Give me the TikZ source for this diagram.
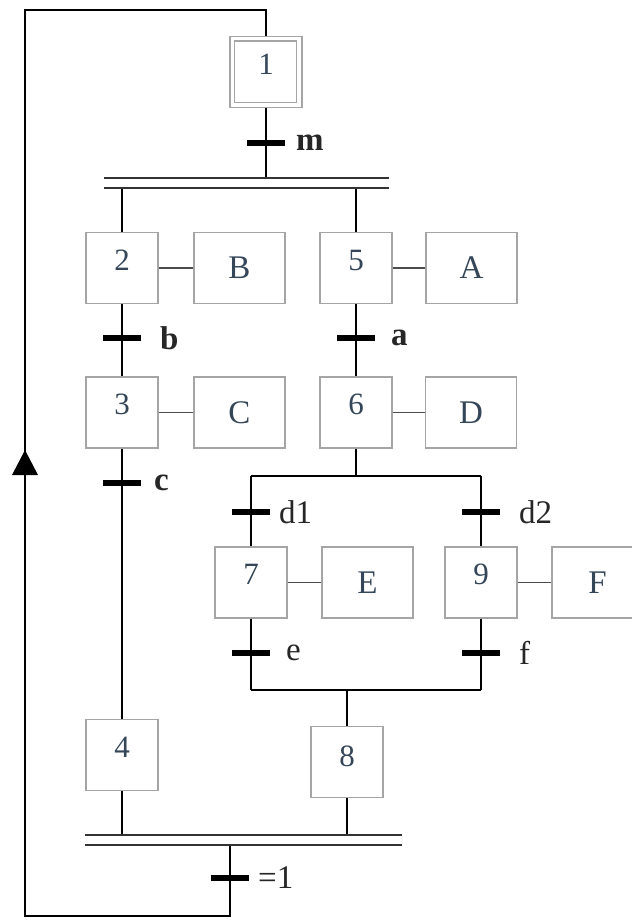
\documentclass[tikz,border=0pt]{standalone}
\usepackage{fontspec}
\setmainfont{Liberation Serif}
\definecolor{numcol}{RGB}{52,70,88}
\definecolor{boxcol}{RGB}{165,165,165}
\begin{document}
\begin{tikzpicture}[x=1pt,y=-1pt,
 stepbox/.style={draw=boxcol, line width=1.1pt, minimum width=72pt, minimum height=71pt, inner sep=0pt},
 actbox/.style={draw=boxcol, line width=1.1pt, minimum width=91pt, minimum height=71pt, inner sep=0pt, font=\fontsize{33}{33}\selectfont, text=numcol},
 num/.style={font=\fontsize{31}{31}\selectfont, text=numcol},
 tbar/.style={fill=black, minimum width=38pt, minimum height=6pt, inner sep=0pt},
 tlab/.style={anchor=west, inner sep=0pt, font=\fontsize{33}{33}\selectfont, text=black!85},
 tlabb/.style={tlab, font=\fontsize{33}{33}\selectfont\bfseries},
 flow/.style={line width=2pt, draw=black},
 dbl/.style={line width=1.8pt, draw=black!80},
 link/.style={line width=1.3pt, draw=black!70}
]
\useasboundingbox (0,0) rectangle (632,922);
\fill[white] (0,0) rectangle (632,922);
\clip (0,0) rectangle (632,922);

% steps
\node[stepbox, label={[num,yshift=8pt]center:1}] (s1) at (266,72) {};
\draw[draw=boxcol, line width=1.1pt] ([shift={(5pt,-5pt)}]s1.north west) rectangle ([shift={(-6pt,6pt)}]s1.south east);
\node[stepbox, label={[num,yshift=8pt]center:2}] (s2) at (122,268) {};
\node[actbox] (aB) at (239.5,268) {B};
\node[stepbox, label={[num,yshift=8pt]center:5}] (s5) at (356,268) {};
\node[actbox] (aA) at (471.5,268) {A};
\node[stepbox, label={[num,yshift=8pt]center:3}] (s3) at (122,412.5) {};
\node[actbox] (aC) at (239.5,412.5) {C};
\node[stepbox, label={[num,yshift=8pt]center:6}] (s6) at (356,412.5) {};
\node[actbox] (aD) at (471,412.5) {D};
\node[stepbox, label={[num,yshift=8pt]center:7}] (s7) at (251,582.5) {};
\node[actbox] (aE) at (367.5,582.5) {E};
\node[stepbox, label={[num,yshift=8pt]center:9}] (s9) at (481,582.5) {};
\node[actbox] (aF) at (597.5,582.5) {F};
\node[stepbox, label={[num,yshift=8pt]center:4}] (s4) at (122,755) {};
\node[stepbox, label={[num,yshift=6pt]center:8}] (s8) at (347,762) {};

% action links
\foreach \s/\a in {s2/aB, s5/aA, s3/aC, s6/aD, s7/aE, s9/aF}
  \draw[link] (\s.east) -- (\a.west);

% coordinates
\coordinate (top) at (266,10);
\coordinate (lt) at (25,10);
\coordinate (lb) at (25,916);
\coordinate (rb) at (230,916);
\coordinate (m1) at (266,178);
\coordinate (dA1) at (104,178);
\coordinate (dA2) at (389,178);
\coordinate (dB1) at (104,188);
\coordinate (dB2) at (389,188);
\coordinate (c2) at (122,188);
\coordinate (c5) at (356,188);
\coordinate (c4) at (122,835);
\coordinate (c8) at (347,835);
\coordinate (eA1) at (85,835);
\coordinate (eA2) at (402,835);
\coordinate (eB1) at (85,845);
\coordinate (eB2) at (402,845);
\coordinate (c1) at (230,845);
\coordinate (o6) at (356,476);
\coordinate (oL) at (251,476);
\coordinate (oR) at (481,476);
\coordinate (jL) at (251,690);
\coordinate (jR) at (481,690);
\coordinate (j8) at (347,690);

% transitions
\node[tbar] (tm) at (266,143) {};
\node[tbar] (tb) at (122,338) {};
\node[tbar] (ta) at (356,338) {};
\node[tbar] (tc) at (122,483) {};
\node[tbar] (td1) at (251,512) {};
\node[tbar] (td2) at (481,512) {};
\node[tbar] (te) at (251,653) {};
\node[tbar] (tf) at (481,653) {};
\node[tbar] (t1) at (230,878) {};

% flow lines
\draw[flow] (s1.north) -- (top) -- (lt) -- (lb) -- (rb) -- (t1) -- (c1);
\draw[flow] (s1) -- (tm) -- (m1);
\draw[flow] (c2) -- (s2) -- (tb) -- (s3) -- (tc) -- (s4) -- (c4);
\draw[flow] (c5) -- (s5) -- (ta) -- (s6) -- (o6);
\draw[flow] (oL) -- (oR);
\draw[flow] (oL) -- (td1) -- (s7) -- (te) -- (jL);
\draw[flow] (oR) -- (td2) -- (s9) -- (tf) -- (jR);
\draw[flow] (jL) -- (jR);
\draw[flow] (j8) -- (s8) -- (c8);

% double lines
\draw[dbl] (dA1) -- (dA2);
\draw[dbl] (dB1) -- (dB2);
\draw[dbl] (eA1) -- (eA2);
\draw[dbl] (eB1) -- (eB2);

% arrow on loop
\fill[black] (25,450) -- (38,475) -- (12,475) -- cycle;

% transition labels
\node[tlabb] (lm0) at (296,143) {m};
\node[tlabb] (lb0) at (160,338) {b};
\node[tlabb] (la0) at (391,338) {a};
\node[tlabb] (lc0) at (154,483) {c};
\node[tlab] (ld1) at (279,512) {d1};
\node[tlab] (ld2) at (519,512) {d2};
\node[tlab] (le) at (286,653) {e};
\node[tlab] (lf) at (519,653) {f};
\node[tlab] (l1) at (258,878) {=1};
\end{tikzpicture}
\end{document}
